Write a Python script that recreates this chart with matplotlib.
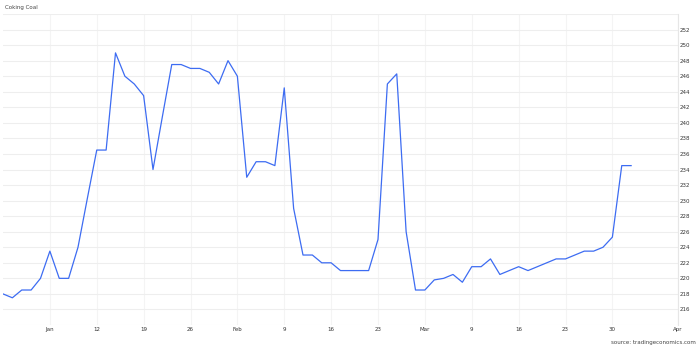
import matplotlib.pyplot as plt

# Coking Coal, prezzi giornalieri (giorni lavorativi, dal 29 dic al 1 apr)
prices = [218, 217.5, 218.5, 218.5, 220,
          223.5, 220, 220, 224, 230.3,
          236.5, 236.5, 249, 246, 245,
          243.5, 234, 240.8, 247.5, 247.5,
          247, 247, 246.5, 245, 248,
          246, 233, 235, 235, 234.5,
          244.5, 229, 223, 223, 222,
          222, 221, 221, 221, 221,
          225, 245, 246.3, 226, 218.5,
          218.5, 219.8, 220, 220.5, 219.5,
          221.5, 221.5, 222.5, 220.5, 221,
          221.5, 221, 221.5, 222, 222.5,
          222.5, 223, 223.5, 223.5, 224,
          225.3, 234.5, 234.5]

# Etichette dell'asse x (indice del giorno lavorativo -> testo)
tick_pos = [5, 10, 15, 20, 25, 30, 35, 40, 45, 50, 55, 60, 65, 72]
tick_labels = ['Jan', '12', '19', '26', 'Feb', '9', '16', '23', 'Mar', '9', '16', '23', '30', 'Apr']
y_ticks = list(range(216, 253, 2))

fig = plt.figure(figsize=(7, 3.47), dpi=100)
ax = fig.add_axes([3 / 700, 1 - 325 / 347, 675 / 700, 311 / 347])

ax.plot(range(len(prices)), prices, color='#3d6cf2', linewidth=0.9)

ax.set_xlim(0, 72)
ax.set_ylim(214, 254)
ax.set_yticks(range(214, 255, 2))
ax.set_yticklabels([str(v) if v in y_ticks else '' for v in range(214, 255, 2)])
ax.set_xticks(tick_pos)
ax.set_xticklabels(tick_labels)

ax.yaxis.tick_right()
ax.tick_params(axis='both', length=0, labelsize=4, colors='#333333')
ax.tick_params(axis='y', pad=1.5)
ax.tick_params(axis='x', pad=1.5)

ax.grid(True, axis='y', color='#eeeeee', linewidth=0.8)
ax.grid(True, axis='x', color='#f4f4f4', linewidth=0.8)

for side in ['top', 'left', 'bottom']:
    ax.spines[side].set_visible(False)
ax.spines['right'].set_color('#e6e6e6')
ax.spines['right'].set_linewidth(0.8)

fig.text(5 / 700, 1 - 7 / 347, 'Coking Coal', fontsize=4, color='#444444', va='center', ha='left')
fig.text(696 / 700, 1 - 342.7 / 347, 'source: tradingeconomics.com', fontsize=4, color='#444444',
         va='center', ha='right')

fig.savefig('out.png', dpi=100)
plt.close()
